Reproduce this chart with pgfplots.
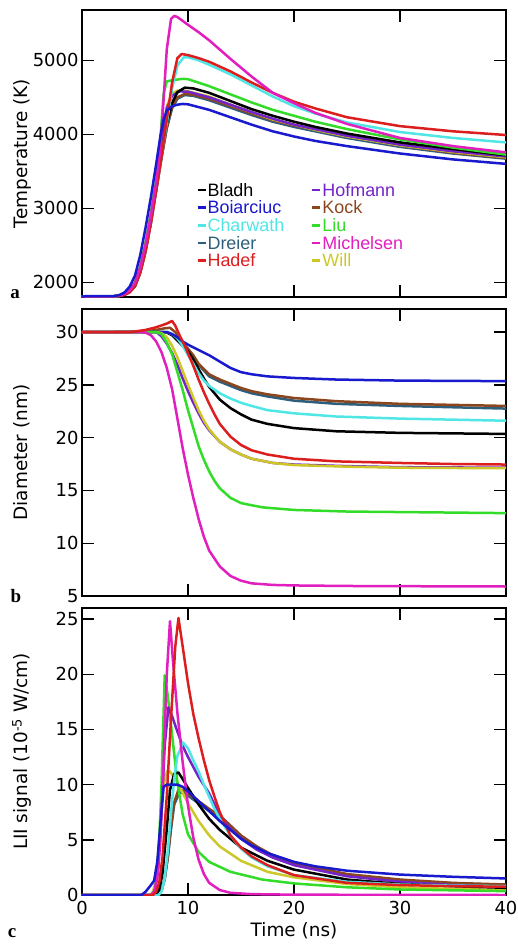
\documentclass[border=0pt]{standalone}
\usepackage{fontspec}
\setmainfont{DejaVu Sans}
\newfontfamily\legfont{Liberation Sans}
\newfontfamily\serfont{Liberation Serif}
\usepackage{pgfplots}
\pgfplotsset{compat=1.18}
\definecolor{cBla}{RGB}{0,0,0}
\definecolor{cBoi}{RGB}{25,25,205}
\definecolor{cCha}{RGB}{80,230,230}
\definecolor{cDre}{RGB}{45,95,125}
\definecolor{cHad}{RGB}{220,30,30}
\definecolor{cHof}{RGB}{115,35,200}
\definecolor{cKoc}{RGB}{140,70,30}
\definecolor{cLiu}{RGB}{50,220,40}
\definecolor{cMic}{RGB}{225,30,190}
\definecolor{cWil}{RGB}{205,200,40}
\tikzset{lettr/.style={font=\serfont\bfseries\fontsize{19}{20}\selectfont, anchor=base}}
\pgfplotsset{
  panel/.style={
    scale only axis, width=424bp, height=287bp,
    xmin=0, xmax=40, xtick={0,10,20,30,40},
    tick align=inside, major tick length=12bp, tick pos=both,
    axis line style={line width=1.5bp},
    every tick/.style={black, line width=1.4bp},
    tick label style={font=\fontsize{18}{20}\selectfont},
    xticklabel style={yshift=-3bp},
    /pgf/number format/assume math mode=true,
    /pgf/number format/set thousands separator={},
    every axis y label/.style={at={(axis description cs:-0.1415,0.5)}, rotate=90, anchor=center, font=\fontsize{18.5}{20}\selectfont},
    every axis x label/.style={at={(axis description cs:0.5,0)}, anchor=base, yshift=-41bp, font=\fontsize{18.5}{20}\selectfont},
    every axis plot/.append style={line width=2.5bp, no marks, line join=round},
  },
}
\begin{document}
\begin{tikzpicture}
\useasboundingbox (-82bp,0bp) rectangle (436bp,-947bp);
% ---------------- panel a ----------------
\begin{axis}[panel, name=pa, at={(0bp,-297bp)}, anchor=south west,
  ymin=1800, ymax=5680, ytick={2000,3000,4000,5000}, xticklabels={},
  ylabel={Temperature (K)},
  legend columns=2,
  legend image code/.code={\draw[line width=2.5bp] (0bp,0bp) -- (8bp,0bp);},
  legend style={at={(axis description cs:0.262,0.405)}, anchor=north west, draw=none, fill=none,
    font=\legfont\fontsize{18}{18}\selectfont, legend cell align=left,
    nodes={inner sep=0.8bp, text height=12.6bp, text depth=0bp}, row sep=3.4bp,
    /tikz/every even column/.append style={column sep=26bp}},
]
\addplot[cDre, forget plot] coordinates {(0,1810)(3,1810)(3.5,1813)(4,1830)(4.5,1865)(5,1945)(5.5,2130)(6,2420)(6.5,2800)(7,3240)(7.5,3680)(8,4080)(8.5,4350)(9,4480)(9.7,4530)(10.5,4520)(12,4460)(14,4360)(16,4260)(18,4170)(20,4100)(22,4040)(25,3950)(30,3830)(35,3740)(40,3670)};
\addplot[cKoc, forget plot] coordinates {(0,1810)(3,1810)(3.5,1813)(4,1830)(4.5,1865)(5,1945)(5.5,2130)(6,2420)(6.5,2800)(7,3240)(7.5,3680)(8,4100)(8.5,4380)(9,4500)(9.7,4545)(10.5,4535)(12,4480)(14,4380)(16,4280)(18,4190)(20,4120)(22,4060)(25,3970)(30,3850)(35,3750)(40,3680)};
\addplot[cWil, forget plot] coordinates {(0,1810)(3,1810)(3.5,1818)(4,1840)(4.5,1890)(5,1990)(5.5,2200)(6,2510)(6.5,2900)(7,3350)(7.5,3900)(8,4380)(8.5,4550)(9,4590)(10,4580)(12,4510)(14,4400)(16,4300)(18,4200)(20,4130)(22,4060)(25,3970)(30,3850)(35,3760)(40,3690)};
\addplot[cHof, forget plot] coordinates {(0,1810)(3,1810)(3.5,1818)(4,1840)(4.5,1890)(5,1990)(5.5,2200)(6,2510)(6.5,2900)(7,3360)(7.5,3900)(8,4350)(8.5,4520)(9.2,4580)(10,4575)(12,4500)(14,4400)(16,4300)(18,4210)(20,4130)(22,4070)(25,3980)(30,3860)(35,3770)(40,3700)};
\addplot[cBla, forget plot] coordinates {(0,1810)(3,1810)(3.5,1815)(4,1835)(4.5,1880)(5,1970)(5.5,2170)(6,2470)(6.5,2860)(7,3300)(7.5,3750)(8,4150)(8.5,4420)(9,4570)(9.7,4630)(10.5,4620)(12,4560)(14,4450)(16,4340)(18,4250)(20,4170)(22,4100)(25,4010)(30,3890)(35,3800)(40,3715)};
\addplot[cLiu, forget plot] coordinates {(0,1810)(3,1810)(3.5,1818)(4,1840)(4.5,1890)(5,2000)(5.5,2220)(6,2540)(6.5,2940)(7,3380)(7.4,3950)(7.7,4550)(8,4715)(8.5,4730)(9.5,4750)(10,4745)(12,4650)(14,4540)(16,4430)(18,4330)(20,4250)(22,4170)(25,4070)(30,3930)(35,3820)(40,3725)};
\addplot[cCha, forget plot] coordinates {(0,1810)(3,1810)(3.5,1815)(4,1835)(4.5,1875)(5,1960)(5.5,2150)(6,2450)(6.5,2840)(7,3280)(7.5,3720)(8,4150)(8.5,4620)(9,4930)(9.6,5040)(10,5040)(11,5000)(12,4940)(14,4810)(16,4660)(18,4510)(20,4380)(22,4280)(25,4160)(30,4030)(35,3950)(40,3890)};
\addplot[cHad, forget plot] coordinates {(0,1810)(3,1810)(3.5,1813)(4,1830)(4.5,1865)(5,1945)(5.5,2130)(6,2420)(6.5,2800)(7,3240)(7.5,3700)(8,4200)(8.5,4700)(9,5030)(9.4,5085)(10,5070)(11,5030)(12,4980)(14,4850)(16,4700)(18,4560)(20,4440)(22,4350)(25,4230)(30,4110)(35,4040)(40,3990)};
\addplot[cMic, forget plot] coordinates {(0,1810)(3,1810)(3.5,1818)(4,1840)(4.5,1890)(5,1990)(5.5,2200)(6,2510)(6.5,2900)(7,3350)(7.3,3700)(7.6,4250)(8,5150)(8.4,5560)(8.7,5600)(9,5585)(10,5480)(11,5380)(12,5270)(14,5020)(16,4780)(18,4560)(20,4420)(22,4290)(25,4140)(30,3950)(35,3840)(40,3755)};
\addplot[cBoi, forget plot] coordinates {(0,1810)(3,1812)(3.5,1825)(4,1860)(4.5,1940)(5,2090)(5.5,2370)(6,2740)(6.5,3150)(7,3600)(7.4,3980)(7.7,4200)(8,4320)(8.5,4380)(9,4400)(9.5,4410)(10,4405)(12,4330)(14,4230)(16,4130)(18,4040)(20,3970)(22,3910)(25,3840)(30,3740)(35,3660)(40,3600)};
\addlegendimage{cBla, line width=2.5bp}\addlegendentry{\textcolor{cBla}{Bladh}}
\addlegendimage{cHof, line width=2.5bp}\addlegendentry{\textcolor{cHof}{Hofmann}}
\addlegendimage{cBoi, line width=2.5bp}\addlegendentry{\textcolor{cBoi}{Boiarciuc}}
\addlegendimage{cKoc, line width=2.5bp}\addlegendentry{\textcolor{cKoc}{Kock}}
\addlegendimage{cCha, line width=2.5bp}\addlegendentry{\textcolor{cCha}{Charwath}}
\addlegendimage{cLiu, line width=2.5bp}\addlegendentry{\textcolor{cLiu}{Liu}}
\addlegendimage{cDre, line width=2.5bp}\addlegendentry{\textcolor{cDre}{Dreier}}
\addlegendimage{cMic, line width=2.5bp}\addlegendentry{\textcolor{cMic}{Michelsen}}
\addlegendimage{cHad, line width=2.5bp}\addlegendentry{\textcolor{cHad}{Hadef}}
\addlegendimage{cWil, line width=2.5bp}\addlegendentry{\textcolor{cWil}{Will}}
\end{axis}
\node[lettr] at (pa.south west) [xshift=-67bp, yshift=-1bp] {a};
% ---------------- panel b ----------------
\begin{axis}[panel, name=pb, at={(0bp,-596bp)}, anchor=south west,
  ymin=5, ymax=32.18, ytick={5,10,15,20,25,30}, xticklabels={},
  ylabel={Diameter (nm)},
]
\addplot[cDre] coordinates {(0,30)(8,30)(8.5,29.8)(9,29.4)(9.5,28.9)(10,28.4)(10.5,27.7)(11,26.9)(12,25.8)(13,25.3)(14,24.9)(15,24.5)(16,24.2)(17.5,23.9)(20,23.5)(24,23.2)(30,23.0)(40,22.75)};
\addplot[cKoc] coordinates {(0,30)(6,30.05)(7,30.2)(7.8,30.35)(8.3,30.4)(8.8,30.0)(9.2,29.3)(9.6,28.8)(10,28.4)(10.5,27.8)(11,27.0)(11.5,26.5)(12,26.0)(13,25.5)(14,25.1)(15,24.7)(16,24.4)(17.5,24.1)(20,23.75)(24,23.45)(30,23.2)(40,23.0)};
\addplot[cBla] coordinates {(0,30)(7.5,30)(8,29.95)(8.5,29.7)(9,29.2)(9.5,28.7)(10,28.2)(10.5,27.4)(11,26.5)(11.5,25.6)(12,24.8)(13,23.6)(14,22.8)(15,22.2)(16,21.7)(17.5,21.3)(20,20.9)(24,20.6)(30,20.45)(40,20.35)};
\addplot[cCha] coordinates {(0,30)(8,30)(8.5,29.8)(9,29.4)(9.5,28.7)(10,27.8)(10.5,27.0)(11,26.1)(11.5,25.4)(12,24.9)(13,24.2)(14,23.7)(15,23.3)(16,23.0)(17.5,22.6)(20,22.3)(24,22.0)(30,21.8)(40,21.6)};
\addplot[cBoi] coordinates {(0,30)(8,30)(8.5,29.8)(9,29.5)(9.5,29.1)(10,28.8)(11,28.3)(12,27.8)(13,27.2)(14,26.6)(15,26.2)(16,26.0)(17.5,25.8)(20,25.65)(24,25.5)(30,25.4)(40,25.35)};
\addplot[cHof] coordinates {(0,30)(7,30)(7.5,29.6)(8,28.9)(8.5,28.0)(9,26.9)(9.5,25.6)(10,24.4)(10.5,23.3)(11,22.3)(11.5,21.4)(12,20.7)(13,19.6)(14,18.9)(15,18.4)(16,18.0)(18,17.6)(20,17.45)(25,17.3)(30,17.2)(40,17.15)};
\addplot[cWil] coordinates {(0,30)(7,30)(7.5,29.9)(8,29.5)(8.5,28.7)(9,27.6)(9.5,26.3)(10,25.0)(10.5,23.8)(11,22.6)(11.5,21.6)(12,20.8)(13,19.6)(14,18.9)(15,18.4)(16,18.0)(18,17.6)(20,17.4)(25,17.25)(30,17.15)(40,17.1)};
\addplot[cLiu] coordinates {(0,30)(7,30)(7.5,29.8)(8,29.0)(8.5,27.9)(9,26.2)(9.5,24.5)(10,22.6)(10.5,20.9)(11,19.2)(11.5,17.9)(12,16.8)(12.5,15.9)(13,15.2)(14,14.3)(15,13.8)(17,13.4)(20,13.15)(25,13.0)(30,12.95)(40,12.85)};
\addplot[cMic] coordinates {(0,30)(5.5,30)(6,29.95)(6.5,29.7)(7,29.1)(7.5,28.1)(8,26.6)(8.5,24.6)(9,21.8)(9.5,19.0)(10,16.5)(10.5,14.3)(11,12.3)(11.5,10.6)(12,9.3)(13,7.8)(14,6.9)(15,6.45)(16,6.2)(18,6.05)(20,6.0)(25,5.95)(30,5.93)(40,5.9)};
\addplot[cHad] coordinates {(0,30)(4.5,30)(5,30.05)(6,30.2)(7,30.45)(8,30.8)(8.5,31.05)(8.8,30.6)(9.2,29.7)(9.6,28.9)(10,28.0)(10.5,26.8)(11,25.5)(11.5,24.3)(12,23.2)(12.5,22.2)(13,21.3)(14,20.1)(15,19.3)(16,18.8)(17.5,18.4)(20,18.0)(24,17.75)(30,17.6)(35,17.5)(40,17.45)};
\end{axis}
\node[lettr] at (pb.south west) [xshift=-66bp, yshift=-6bp] {b};
% ---------------- panel c ----------------
\begin{axis}[panel, name=pc, at={(0bp,-895bp)}, anchor=south west,
  ymin=0, ymax=26, ytick={0,5,10,15,20,25},
  ylabel={LII signal (10\textsuperscript{-5} W/cm)},
  xlabel={Time (ns)},
]
\addplot[cDre] coordinates {(0,0)(7.2,0)(7.5,0.4)(7.8,1.4)(8.1,3.4)(8.4,6.0)(8.7,8.2)(9.2,9.3)(9.6,9.2)(10,9.0)(11,8.3)(12,7.6)(13,7.0)(14,6.1)(15,5.2)(16.5,4.2)(18,3.4)(20,2.8)(25,1.8)(30,1.3)(35,1.05)(40,0.9)};
\addplot[cKoc] coordinates {(0,0)(7.2,0)(7.5,0.4)(7.8,1.5)(8.1,3.5)(8.4,6.2)(8.7,8.4)(9.1,9.55)(9.5,9.5)(10,9.2)(11,8.5)(12,7.8)(13,7.2)(14,6.3)(15,5.4)(16.5,4.4)(18,3.6)(20,2.9)(25,1.9)(30,1.4)(35,1.1)(40,0.95)};
\addplot[cWil] coordinates {(0,0)(6.4,0)(6.7,0.3)(7.0,1.5)(7.3,5)(7.6,9.5)(8.0,11.2)(8.3,11.2)(9,10.2)(10,8.3)(11,6.7)(12,5.4)(13,4.4)(15,3.1)(17.5,2.1)(20,1.6)(25,1.0)(30,0.7)(35,0.55)(40,0.45)};
\addplot[cLiu] coordinates {(0,0)(6.6,0)(6.9,0.5)(7.2,3)(7.5,10)(7.8,19.9)(8.1,18)(8.5,14.5)(9,10.2)(9.5,7.3)(10,5.5)(11,3.9)(12,3.0)(14,2.1)(17,1.4)(20,1.05)(25,0.7)(30,0.5)(40,0.35)};
\addplot[cHof] coordinates {(0,0)(6.6,0)(6.9,0.5)(7.2,2.5)(7.5,7.5)(7.8,13.5)(8.15,17)(8.5,16.2)(9,14.8)(9.5,13.5)(10,12.5)(11,10.7)(12,9.2)(13,7.2)(14,6.0)(15,5.1)(16.5,4.1)(18,3.4)(20,2.7)(25,1.7)(30,1.2)(35,0.9)(40,0.7)};
\addplot[cBla] coordinates {(0,0)(7,0)(7.3,0.5)(7.6,2)(8,6)(8.3,9.5)(8.7,11.0)(9.1,11.1)(9.5,10.5)(10,9.7)(11,8.2)(12,6.9)(13,5.9)(15,4.3)(17.5,3.1)(20,2.3)(25,1.4)(30,1.0)(35,0.8)(40,0.65)};
\addplot[cCha] coordinates {(0,0)(7.2,0)(7.5,0.3)(7.8,1.5)(8.1,4)(8.4,7.5)(8.7,10.5)(9.0,12.6)(9.55,13.8)(10,13.3)(10.5,12.2)(11,11.2)(11.5,10.0)(12,8.9)(12.5,7.8)(13,6.9)(14,5.4)(15,4.2)(16,3.4)(17.5,2.6)(20,1.8)(25,1.2)(30,0.95)(35,0.85)(40,0.8)};
\addplot[cMic] coordinates {(0,0)(6.5,0)(6.8,0.3)(7.1,1.5)(7.4,5)(7.7,12)(8,20)(8.3,24.8)(8.6,21)(9,16.5)(9.5,12)(10,8.1)(10.5,5.2)(11,3.2)(11.5,1.9)(12,1.1)(13,0.45)(14,0.2)(16,0.08)(20,0.03)(40,0)};
\addplot[cHad] coordinates {(0,0)(6.7,0)(7.0,0.3)(7.3,1.2)(7.6,3.5)(8.0,9)(8.4,16)(8.8,22.5)(9.1,25.1)(9.5,22.5)(10,19.2)(10.5,16.4)(11,14.2)(11.5,12.2)(12,10.4)(12.5,8.9)(13,7.5)(14,5.4)(15,4.3)(16,3.5)(17.5,2.7)(20,1.8)(25,1.1)(30,0.9)(35,0.8)(40,0.75)};
\addplot[cBoi] coordinates {(0,0)(5.6,0)(6,0.3)(6.5,0.9)(6.8,1.3)(7.1,3)(7.4,6.5)(7.7,9.8)(8,10.0)(8.5,10.0)(9,10.0)(9.5,9.8)(10,9.4)(11,8.5)(12,7.6)(13,6.7)(14,5.9)(15,5.1)(16,4.5)(17.5,3.8)(20,3.0)(22,2.6)(25,2.2)(30,1.85)(35,1.65)(40,1.5)};
\end{axis}
\node[lettr] at (pc.south west) [xshift=-70bp, yshift=-42bp] {c};
\end{tikzpicture}
\end{document}
